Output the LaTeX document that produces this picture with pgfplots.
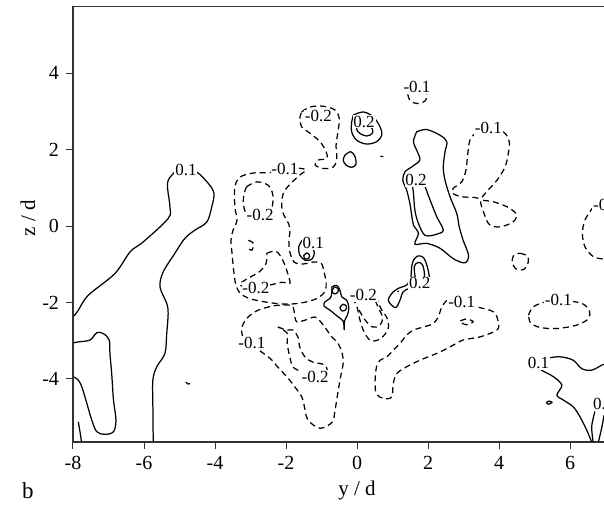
\documentclass[border=0pt]{standalone}
\usepackage{fontspec}
\setmainfont{Liberation Serif}
\usepackage{pgfplots}
\pgfplotsset{compat=1.18}
\tikzset{
  sl/.style={black, line width=0.62pt, smooth, tension=0.55},
  dsh/.style={black, line width=0.62pt, smooth, tension=0.55, dash pattern=on 3pt off 2pt},
  lab/.style={fill=white, inner sep=0.4pt, font=\fontsize{8.5}{9}\selectfont},
}
\begin{document}
\begin{tikzpicture}
\useasboundingbox (-36.5pt,-32.5pt) rectangle (265.5pt,221pt);
\begin{axis}[
  x=17.75pt, y=19.1pt,
  xmin=-8, xmax=6.96, ymin=-5.65, ymax=5.76,
  axis lines*=left,
  axis line style={line width=0.6pt, black!80},
  tick align=outside, major tick length=3.5pt,
  tick style={black!80, line width=0.5pt},
  xtick={-8,-6,-4,-2,0,2,4,6}, xticklabels={-8,-6,-4,-2,0,2,4,6},
  ytick={-4,-2,0,2,4}, yticklabels={-4,-2,0,2,4},
  ticklabel style={font=\fontsize{10}{11}\selectfont},
  clip=true,
]
\draw[line width=0.6pt, black!80] (rel axis cs:0,1) -- (rel axis cs:1,1);
% ---------- solid 0.1 left
\addplot[sl] coordinates {(-7.97,-2.35) (-7.85,-2.20) (-7.57,-1.81) (-6.82,-1.24) (-6.39,-0.67) (-6.02,-0.41) (-5.32,0.20) (-5.27,0.51) (-5.34,1.12) (-5.17,1.38) (-4.94,1.55) (-4.52,1.42) (-4.19,1.12) (-4.03,0.86) (-4.09,0.51) (-4.23,0.11) (-4.56,-0.10) (-4.85,-0.32) (-5.13,-0.71) (-5.46,-1.20) (-5.55,-1.59) (-5.36,-2.02) (-5.32,-2.29) (-5.36,-2.81) (-5.41,-3.33) (-5.64,-3.68) (-5.75,-4.03) (-5.75,-4.73) (-5.74,-5.65)};
\addplot[sl] coordinates {(-7.97,-3.05) (-7.85,-3.03) (-7.52,-2.98) (-7.33,-2.79) (-7.15,-2.81) (-6.98,-2.98) (-6.96,-3.33) (-6.91,-3.86) (-6.86,-4.55) (-6.79,-5.08) (-6.86,-5.38) (-7.10,-5.45) (-7.33,-5.38) (-7.47,-5.08) (-7.61,-4.64) (-7.75,-4.21) (-7.85,-4.03) (-7.97,-3.95)};
\addplot[sl] coordinates {(-7.85,-5.12) (-7.80,-5.40) (-7.76,-5.65)};
\addplot[dsh] coordinates {(-4.82,-4.08) (-4.76,-4.13) (-4.70,-4.12)};
% ---------- top -0.2 balloon
\addplot[dsh] coordinates {(-1.56,2.99) (-1.32,3.12) (-0.95,3.14) (-0.62,3.04) (-0.50,2.82) (-0.53,2.51) (-0.59,2.12) (-0.57,1.77) (-0.67,1.55) (-0.95,1.51) (-1.18,1.60) (-1.09,1.73) (-0.85,1.77) (-0.87,1.95) (-1.04,2.21) (-1.32,2.43) (-1.56,2.60) (-1.61,2.82) (-1.56,2.99)};
% ---------- top 0.2
\addplot[sl] coordinates {(-0.10,2.91) (0.18,2.99) (0.46,2.86) (0.65,2.60) (0.70,2.38) (0.55,2.21) (0.27,2.15) (-0.01,2.25) (-0.15,2.47) (-0.15,2.73) (-0.10,2.91)};
\addplot[sl] coordinates {(0.01,2.64) (0.18,2.73) (0.39,2.62) (0.44,2.44) (0.27,2.36) (0.08,2.43) (-0.01,2.53) (0.01,2.64)};
\addplot[sl] coordinates {(-0.34,1.86) (-0.18,1.95) (-0.06,1.83) (-0.03,1.62) (-0.15,1.54) (-0.31,1.60) (-0.39,1.73) (-0.34,1.86)};
\addplot[sl] coordinates {(0.66,1.83) (0.74,1.82)};
% ---------- top -0.1 small
\addplot[dsh] coordinates {(1.43,3.45) (1.50,3.28) (1.70,3.21) (1.92,3.28) (1.97,3.45) (1.90,3.60) (1.70,3.65) (1.50,3.60) (1.43,3.45)};
% ---------- big 0.2 right of centre
\addplot[sl] coordinates {(1.68,2.47) (1.96,2.53) (2.34,2.38) (2.53,2.21) (2.48,1.95) (2.43,1.55) (2.48,1.20) (2.62,0.77) (2.81,0.33) (2.88,-0.02) (2.99,-0.37) (3.14,-0.76) (3.04,-0.96) (2.71,-0.85) (2.34,-0.58) (1.96,-0.45) (1.63,-0.47) (1.73,-0.19) (1.59,0.03) (1.54,0.29) (1.49,0.59) (1.40,0.94) (1.29,1.20) (1.35,1.42) (1.57,1.57) (1.77,1.73) (1.70,1.95) (1.59,2.21) (1.68,2.47)};
\addplot[sl] coordinates {(1.54,1.20) (1.59,0.86) (1.63,0.42) (1.73,0.07) (1.92,-0.24) (2.25,-0.21) (2.43,-0.10) (2.25,0.24) (2.06,0.68) (1.92,1.03) (1.82,1.25) (1.73,1.34)};
% ---------- right -0.1
\addplot[dsh] coordinates {(3.37,2.47) (3.18,2.25) (3.11,1.81) (3.07,1.47) (2.95,1.16) (2.71,0.99) (2.70,0.86) (2.95,0.77) (3.42,0.73) (3.51,0.51) (3.70,0.07) (3.94,-0.02) (4.22,0.03) (4.45,0.16) (4.48,0.33) (4.22,0.51) (3.84,0.64) (3.51,0.70) (3.65,0.90) (3.94,1.20) (4.17,1.55) (4.26,1.90) (4.29,2.21) (4.17,2.43) (3.98,2.53) (3.70,2.56) (3.37,2.47)};
\addplot[dsh] coordinates {(6.66,0.51) (6.42,0.16) (6.35,-0.19) (6.42,-0.54) (6.66,-0.80) (6.96,-0.86)};
\addplot[dsh] coordinates {(4.59,-0.71) (4.80,-0.78) (4.82,-0.95) (4.70,-1.13) (4.48,-1.12) (4.37,-0.93) (4.42,-0.76) (4.59,-0.71)};
\addplot[dsh] coordinates {(4.83,-2.33) (4.97,-2.11) (5.34,-1.98) (5.91,-1.96) (6.33,-2.02) (6.54,-2.20) (6.52,-2.42) (6.19,-2.59) (5.63,-2.68) (5.15,-2.65) (4.89,-2.53) (4.83,-2.33)};
% ---------- lower -0.1 (centre right)
\addplot[dsh] coordinates {(2.53,-1.94) (2.39,-2.11) (2.29,-2.37) (2.15,-2.55) (1.87,-2.64) (1.59,-2.72) (1.40,-2.85) (1.21,-3.07) (1.02,-3.25) (0.84,-3.42) (0.65,-3.51) (0.55,-3.68) (0.51,-4.03) (0.54,-4.38) (0.74,-4.51) (0.98,-4.47) (1.02,-4.12) (1.12,-3.86) (1.40,-3.68) (1.77,-3.51) (2.25,-3.33) (2.62,-3.16) (2.99,-2.98) (3.46,-2.90) (3.94,-2.72) (3.98,-2.51) (3.84,-2.24) (3.37,-2.11) (2.95,-1.98) (2.53,-1.94)};
\addplot[dsh] coordinates {(2.91,-2.48) (3.09,-2.43) (3.27,-2.50) (3.09,-2.58) (2.91,-2.52)};
% ---------- small 0.2 lower
\addplot[sl] coordinates {(1.59,-0.89) (1.71,-0.78) (1.87,-0.82) (1.98,-1.06) (2.04,-1.37) (2.01,-1.59) (1.77,-1.63) (1.49,-1.63) (1.30,-1.72) (1.21,-1.94) (1.10,-2.13) (0.98,-2.07) (0.88,-1.94) (0.98,-1.76) (1.16,-1.63) (1.40,-1.54) (1.51,-1.37) (1.54,-1.06) (1.59,-0.89)};
\addplot[sl] coordinates {(1.66,-1.46) (1.61,-1.06) (1.73,-0.95) (1.85,-1.02) (1.90,-1.28) (1.85,-1.50)};
\addplot[sl] coordinates {(1.14,-1.70) (1.18,-1.71)};
% ---------- 0.1 centre-left small
\addplot[sl] coordinates {(-1.53,-0.35) (-1.64,-0.54) (-1.61,-0.76) (-1.46,-0.89) (-1.28,-0.87) (-1.20,-0.70) (-1.30,-0.50) (-1.53,-0.35)};
\addplot[sl] coordinates {(-1.42,-0.70) (-1.34,-0.75) (-1.36,-0.84) (-1.46,-0.86) (-1.50,-0.77) (-1.42,-0.70)};
% ---------- solid blob centre
\addplot[sl] coordinates {(-0.71,-1.59) (-0.57,-1.55) (-0.48,-1.68) (-0.43,-1.85) (-0.29,-1.94) (-0.23,-2.13) (-0.27,-2.33) (-0.35,-2.48) (-0.36,-2.72) (-0.39,-2.49) (-0.55,-2.36) (-0.76,-2.20) (-0.93,-2.09) (-0.90,-1.98) (-0.76,-1.89) (-0.71,-1.76) (-0.71,-1.59)};
\addplot[sl] coordinates {(-0.62,-1.59) (-0.53,-1.64) (-0.55,-1.74) (-0.65,-1.77) (-0.71,-1.68) (-0.62,-1.59)};
\addplot[sl] coordinates {(-0.39,-2.04) (-0.30,-2.09) (-0.32,-2.19) (-0.42,-2.22) (-0.48,-2.13) (-0.39,-2.04)};
% ---------- -0.2 centre lower
\addplot[dsh] coordinates {(-0.15,-1.89) (-0.01,-2.07) (0.04,-2.29) (0.10,-2.51) (0.20,-2.77) (0.39,-3.00) (0.67,-2.94) (0.88,-2.68) (0.84,-2.39) (0.70,-2.20) (0.57,-1.94) (0.48,-1.78)};
\addplot[dsh] coordinates {(0.06,-2.20) (0.23,-2.46) (0.44,-2.64) (0.65,-2.59) (0.72,-2.39) (0.60,-2.13) (0.51,-1.94)};
% ---------- left big -0.1 loop
\addplot[dsh] coordinates {(-2.03,1.52) (-2.37,1.41) (-2.93,1.39) (-3.30,1.28) (-3.44,1.02) (-3.44,0.50) (-3.38,0.16) (-3.49,-0.10) (-3.55,-0.37) (-3.52,-0.71) (-3.49,-1.02) (-3.46,-1.28) (-3.41,-1.54) (-3.30,-1.75) (-3.07,-1.88) (-2.73,-1.96) (-2.31,-2.02) (-1.89,-2.04) (-1.46,-1.99) (-1.10,-1.88) (-0.90,-1.70) (-0.87,-1.47) (-0.93,-1.20) (-1.01,-0.97) (-1.24,-0.94) (-1.52,-0.99) (-1.77,-0.94) (-1.89,-0.68) (-1.92,-0.37) (-1.89,-0.16) (-1.92,0.05) (-2.03,0.24) (-2.11,0.42) (-2.11,0.73) (-2.03,0.94) (-1.83,1.15) (-1.61,1.34) (-1.44,1.47) (-1.66,1.52) (-2.03,1.52)};
% ---------- left -0.2 loops
\addplot[dsh] coordinates {(-3.11,1.03) (-2.83,1.16) (-2.50,1.07) (-2.37,0.81) (-2.40,0.46) (-2.54,0.29) (-2.78,0.24) (-3.11,0.33) (-3.20,0.59) (-3.18,0.86) (-3.11,1.03)};
\addplot[dsh] coordinates {(-2.54,-0.71) (-2.31,-0.65) (-2.17,-0.76) (-2.03,-1.02) (-1.94,-1.28) (-1.89,-1.50) (-2.11,-1.47) (-2.45,-1.54) (-2.93,-1.62) (-3.30,-1.54) (-3.15,-1.41) (-2.96,-1.31) (-2.73,-1.18) (-2.56,-0.97) (-2.54,-0.71)};
\addplot[dsh] coordinates {(-3.06,-0.37) (-2.92,-0.45) (-2.96,-0.63) (-3.06,-0.58)};
\addplot[dsh] coordinates {(-2.23,-2.64) (-1.97,-2.72) (-1.80,-2.72) (-1.66,-2.91) (-1.61,-3.17) (-1.46,-3.43) (-1.24,-3.56) (-0.90,-3.64) (-0.85,-3.90) (-1.18,-3.98) (-1.38,-3.95) (-1.55,-3.82) (-1.80,-3.69) (-1.89,-3.43) (-1.97,-3.06) (-1.97,-2.80) (-2.23,-2.64)};
% ---------- lower left -0.1 loop
\addplot[dsh] coordinates {(-3.01,-3.06) (-3.21,-2.91) (-3.24,-2.64) (-3.07,-2.38) (-2.79,-2.20) (-2.51,-2.12) (-2.23,-2.07) (-1.83,-2.09) (-1.75,-2.38) (-1.69,-2.51) (-1.46,-2.46) (-1.18,-2.38) (-0.99,-2.54) (-0.85,-2.72) (-0.70,-2.91) (-0.54,-3.06) (-0.42,-3.32) (-0.39,-3.59) (-0.48,-4.03) (-0.56,-4.48) (-0.62,-4.82) (-0.70,-5.13) (-1.04,-5.29) (-1.38,-5.08) (-1.46,-4.82) (-1.55,-4.48) (-1.75,-4.21) (-1.97,-3.95) (-2.23,-3.69) (-2.45,-3.46) (-2.68,-3.30) (-3.01,-3.06)};
% ---------- right bottom 0.1
\addplot[sl] coordinates {(5.11,-3.52) (5.34,-3.46) (5.72,-3.42) (6.09,-3.51) (6.33,-3.73) (6.61,-3.77) (6.89,-3.64) (6.96,-3.62)};
\addplot[sl] coordinates {(5.11,-3.66) (5.20,-3.77) (5.53,-3.94) (5.77,-4.16) (5.63,-4.42) (5.81,-4.55) (6.09,-4.73) (6.28,-4.99) (6.47,-5.34) (6.61,-5.65)};
\addplot[sl] coordinates {(6.70,-4.85) (6.66,-5.00) (6.61,-5.27) (6.65,-5.65)};
\addplot[sl] coordinates {(6.96,-4.95) (6.89,-5.29) (6.80,-5.65)};
\addplot[sl] coordinates {(5.33,-4.62) (5.40,-4.58) (5.49,-4.61) (5.40,-4.66) (5.33,-4.62)};
% ---------- labels
\node[lab] at (axis cs:-4.82,1.47) {0.1};
\node[lab] at (axis cs:-1.23,-0.45) {0.1};
\node[lab] at (axis cs:5.11,-3.59) {0.1};
\node[lab, anchor=west] at (axis cs:6.62,-4.66) {0.1};
\node[lab] at (axis cs:0.20,2.73) {0.2};
\node[lab] at (axis cs:1.66,1.20) {0.2};
\node[lab] at (axis cs:1.77,-1.50) {0.2};
\node[lab] at (axis cs:-1.09,2.88) {-0.2};
\node[lab] at (axis cs:-2.73,0.29) {-0.2};
\node[lab] at (axis cs:-2.85,-1.63) {-0.2};
\node[lab] at (axis cs:0.18,-1.81) {-0.2};
\node[lab] at (axis cs:-1.18,-3.95) {-0.2};
\node[lab] at (axis cs:-2.03,1.51) {-0.1};
\node[lab] at (axis cs:-2.96,-3.06) {-0.1};
\node[lab] at (axis cs:1.69,3.64) {-0.1};
\node[lab] at (axis cs:3.70,2.56) {-0.1};
\node[lab] at (axis cs:2.95,-1.98) {-0.1};
\node[lab] at (axis cs:5.67,-1.94) {-0.1};
\node[lab, anchor=west] at (axis cs:6.62,0.55) {-0.1};
\end{axis}
\node[font=\fontsize{10.5}{12}\selectfont, rotate=90] at (-22.5pt,112pt) {z / d};
\node[font=\fontsize{10.5}{12}\selectfont] at (142pt,-24pt) {y / d};
\node[font=\fontsize{11.5}{12}\selectfont] at (-22.5pt,-24.5pt) {b};
\end{tikzpicture}
\end{document}
